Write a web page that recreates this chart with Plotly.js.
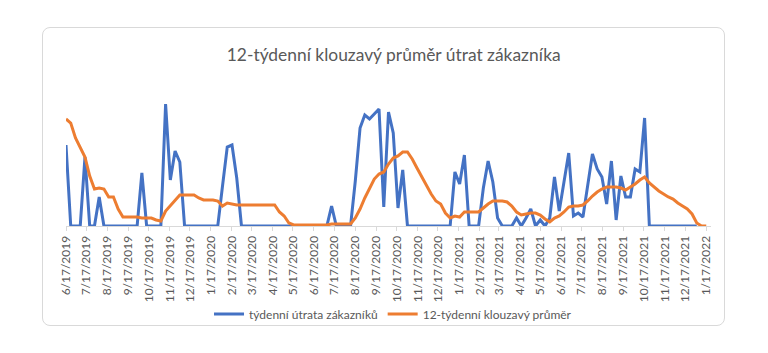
<!DOCTYPE html>
<html>
<head>
<meta charset="utf-8">
<script src="https://cdn.plot.ly/plotly-3.0.1.min.js"></script>
<style>
  html, body { margin: 0; padding: 0; background: #ffffff; }
  #box {
    position: absolute; left: 42px; top: 27px; width: 683px; height: 299px;
    box-sizing: border-box; border: 1px solid #d9d9d9; border-radius: 8px;
    background: #ffffff; overflow: hidden;
  }
  #chart { width: 681px; height: 297px; }
</style>
</head>
<body>
<div id="box"><div id="chart"></div></div>
<script>
// First week of the data (weekly series)
const startDate = "2019-06-17";

// týdenní útrata zákazníků (weekly customer spend)
const weeklySpend = [
  81,0,0,0,69,0,0,29,0,0,
  0,0,0,0,0,0,53,0,0,0,
  0,122,46,75,64,0,0,0,0,0,
  0,0,0,40,79,81,48,0,0,0,
  0,0,0,0,0,0,0,0,0,0,
  0,0,0,0,0,0,20,0,0,0,
  0,45,98,111,107,112,117,19,114,93,
  18,56,0,0,0,0,0,0,0,0,
  0,0,54,42,71,0,0,0,38,65,
  44,8,0,0,0,8,0,8,17,0,
  6,0,8,49,15,44,73,10,13,9,
  40,72,57,49,22,65,6,50,29,29,
  57,54,108,0,0,0,0,0,0,0,
  0,0,0,0
];

// 12-týdenní klouzavý průměr (12-week moving average)
const movingAvg = [
  107,103,88,78,69,50,37,38,37,29,
  29,17,9,9,9,9,8,8,8,6,
  5,15,20,25,31,31,31,31,28,26,
  26,26,25,20,23,22,21,21,21,21,
  21,21,21,21,21,14,10,3,1,1,
  1,1,1,1,1,1,2,2,2,2,
  2,8,17,28,38,47,52,54,62,68,
  70,74,74,67,58,49,41,32,25,22,
  13,8,10,9,14,14,14,14,18,22,
  25,25,25,24,20,14,11,12,13,13,
  11,7,4,8,10,14,19,20,20,21,
  25,30,34,37,39,39,39,38,36,39,
  42,46,49,43,39,35,32,29,27,23,
  20,17,12,3,0,0
];

// x-axis tick labels
const tickLabels = [
  "6/17/2019","7/17/2019","8/17/2019","9/17/2019","10/17/2019","11/17/2019","12/17/2019",
  "1/17/2020","2/17/2020","3/17/2020","4/17/2020","5/17/2020","6/17/2020","7/17/2020",
  "8/17/2020","9/17/2020","10/17/2020","11/17/2020","12/17/2020",
  "1/17/2021","2/17/2021","3/17/2021","4/17/2021","5/17/2021","6/17/2021","7/17/2021",
  "8/17/2021","9/17/2021","10/17/2021","11/17/2021","12/17/2021","1/17/2022"
];

const seriesNames = ["týdenní útrata zákazníků", "12-týdenní klouzavý průměr"];
const titleText = "12-týdenní klouzavý průměr útrat zákazníka";

function weekDates(n) {
  const out = [];
  const d0 = new Date(startDate + "T00:00:00Z");
  for (let i = 0; i < n; i++) {
    const d = new Date(d0.getTime() + i * 7 * 86400000);
    out.push(d.toISOString().slice(0, 10));
  }
  return out;
}
function labelToIso(s) {
  const [m, d, y] = s.split("/").map(Number);
  return y + "-" + String(m).padStart(2, "0") + "-" + String(d).padStart(2, "0");
}

const FONT = "Lato, 'Open Sans', sans-serif";
const GREY = "#595959";

const traces = [
  {
    x: weekDates(weeklySpend.length), y: weeklySpend, name: seriesNames[0],
    type: "scatter", mode: "lines",
    line: { color: "#4472C4", width: 3, shape: "linear" }
  },
  {
    x: weekDates(movingAvg.length), y: movingAvg, name: seriesNames[1],
    type: "scatter", mode: "lines",
    line: { color: "#ED7D31", width: 3, shape: "linear" }
  }
];

const layout = {
  width: 681, height: 297,
  margin: { l: 23, r: 13, t: 62, b: 99, autoexpand: false },
  paper_bgcolor: "rgba(0,0,0,0)",
  plot_bgcolor: "rgba(0,0,0,0)",
  font: { family: FONT, color: GREY, size: 12 },
  title: {
    text: titleText,
    font: { family: FONT, size: 17.4, color: GREY },
    xref: "container", x: 0.515, xanchor: "center",
    yref: "container", y: 0.909, yanchor: "middle"
  },
  showlegend: true,
  legend: {
    orientation: "h", xref: "paper", x: 0.507, xanchor: "center",
    yref: "paper", y: -0.647, yanchor: "middle",
    font: { family: FONT, size: 12, color: GREY },
    bgcolor: "rgba(0,0,0,0)", itemwidth: 30, tracegroupgap: 0
  },
  xaxis: {
    type: "date",
    range: ["2019-06-17", "2022-01-24"],
    tickmode: "array",
    tickvals: tickLabels.map(labelToIso),
    ticktext: tickLabels,
    tickangle: -90,
    tickfont: { family: FONT, size: 12, color: GREY },
    showline: true, linecolor: "#d9d9d9", linewidth: 1,
    ticks: "outside", ticklen: 4, tickcolor: "#d9d9d9",
    showgrid: false, zeroline: false, automargin: false
  },
  yaxis: {
    range: [0, 136], visible: false, showgrid: false, zeroline: false, fixedrange: true
  }
};

Plotly.newPlot("chart", traces, layout, { displayModeBar: false, staticPlot: true });
</script>
</body>
</html>
